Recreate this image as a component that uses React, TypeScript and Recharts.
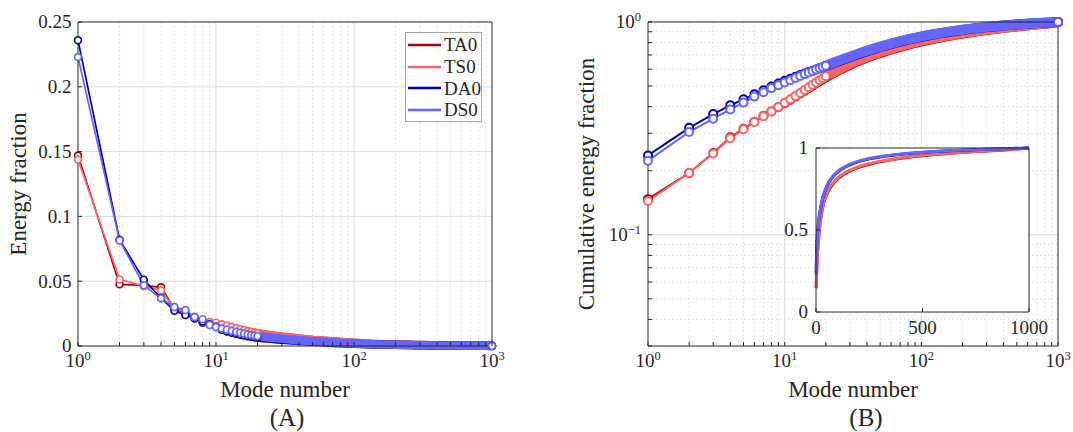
import React from "react";
import { LineChart, Line, XAxis, YAxis, CartesianGrid } from "recharts";

// Mode numbers sampled along each curve (log-spaced past mode 20)
const modes = [
  1, 2, 3, 4, 5, 6, 7, 8, 9, 10, 11, 12, 13, 14, 15, 16, 17, 18, 19, 20,
  22, 25, 28, 32, 36, 40, 45, 50, 56, 63, 71, 80, 90, 100, 112, 125, 140, 160, 180, 200,
  225, 250, 280, 320, 360, 400, 450, 500, 560, 630, 710, 800, 900, 1000,
];

// Energy fraction per mode
const ta0Energy = [
  0.147, 0.0476, 0.0468, 0.0453, 0.0285, 0.0255, 0.022, 0.018, 0.0178, 0.0175,
  0.0163, 0.0153, 0.0144, 0.0135, 0.0126, 0.0119, 0.0113, 0.0107, 0.0102, 0.0097,
  0.0089, 0.0081, 0.0074, 0.0067, 0.0061, 0.0056, 0.0051, 0.0046, 0.0042, 0.0038,
  0.0034, 0.003, 0.0027, 0.0024, 0.0021, 0.0018, 0.0016, 0.0013, 0.0012, 0.0011,
  0.001, 0.0009, 0.0008, 0.0007, 0.0006, 0.0005, 0.00045, 0.0004, 0.00035, 0.0003,
  0.00025, 0.0002, 0.00015, 0.0001,
];
const ts0Energy = [
  0.144, 0.0514, 0.0462, 0.043, 0.029, 0.0262, 0.0225, 0.019, 0.0185, 0.018,
  0.0168, 0.0158, 0.0148, 0.0139, 0.013, 0.0123, 0.0116, 0.011, 0.0105, 0.01,
  0.0092, 0.0083, 0.0076, 0.0069, 0.0063, 0.0058, 0.0052, 0.0047, 0.0043, 0.0039,
  0.0035, 0.0031, 0.0028, 0.0025, 0.0022, 0.0019, 0.0016, 0.0013, 0.0012, 0.0011,
  0.001, 0.0009, 0.0008, 0.0007, 0.0006, 0.0005, 0.00045, 0.0004, 0.00035, 0.0003,
  0.00025, 0.0002, 0.00015, 0.0001,
];
const da0Energy = [
  0.236, 0.082, 0.0512, 0.037, 0.0272, 0.0239, 0.0212, 0.019, 0.0168, 0.015,
  0.0125, 0.0112, 0.0102, 0.0094, 0.0087, 0.0081, 0.0076, 0.0072, 0.0068, 0.0065,
  0.006, 0.0055, 0.0051, 0.0047, 0.0043, 0.004, 0.0036, 0.0033, 0.003, 0.0027,
  0.0024, 0.0022, 0.002, 0.0018, 0.0016, 0.0014, 0.0012, 0.0011, 0.001, 0.0009,
  0.0008, 0.0007, 0.0006, 0.0005, 0.00045, 0.0004, 0.00035, 0.0003, 0.00025, 0.0002,
  0.00018, 0.00015, 0.0001, 0.00008,
];
const ds0Energy = [
  0.223, 0.0815, 0.0468, 0.0368, 0.03, 0.0277, 0.0224, 0.0207, 0.0163, 0.0147,
  0.0135, 0.0126, 0.0118, 0.011, 0.0103, 0.0096, 0.009, 0.0085, 0.0081, 0.0077,
  0.0071, 0.0064, 0.0059, 0.0054, 0.0049, 0.0045, 0.0041, 0.0037, 0.0034, 0.0031,
  0.0028, 0.0025, 0.0022, 0.002, 0.0018, 0.0016, 0.0014, 0.0012, 0.0011, 0.001,
  0.0009, 0.0008, 0.0007, 0.0006, 0.0005, 0.00045, 0.0004, 0.00035, 0.0003, 0.00025,
  0.0002, 0.00015, 0.0001, 0.00008,
];

// Cumulative energy fraction
const ta0Cumulative = [
  0.147, 0.195, 0.242, 0.287, 0.315, 0.34, 0.362, 0.38, 0.398, 0.415,
  0.431, 0.446, 0.461, 0.475, 0.489, 0.502, 0.515, 0.527, 0.539, 0.55,
  0.569, 0.594, 0.616, 0.642, 0.662, 0.68, 0.699, 0.716, 0.733, 0.75,
  0.766, 0.782, 0.797, 0.81, 0.823, 0.835, 0.847, 0.86, 0.872, 0.882,
  0.892, 0.901, 0.911, 0.921, 0.93, 0.938, 0.946, 0.953, 0.96, 0.968,
  0.975, 0.982, 0.99, 1.0,
];
const ts0Cumulative = [
  0.144, 0.195, 0.241, 0.284, 0.313, 0.339, 0.361, 0.38, 0.399, 0.417,
  0.433, 0.449, 0.464, 0.479, 0.493, 0.507, 0.52, 0.532, 0.544, 0.556,
  0.575, 0.6, 0.622, 0.648, 0.668, 0.686, 0.705, 0.722, 0.739, 0.756,
  0.772, 0.788, 0.802, 0.815, 0.828, 0.84, 0.852, 0.865, 0.876, 0.886,
  0.896, 0.905, 0.914, 0.924, 0.932, 0.94, 0.948, 0.955, 0.962, 0.969,
  0.976, 0.983, 0.991, 1.0,
];
const da0Cumulative = [
  0.236, 0.318, 0.369, 0.406, 0.433, 0.457, 0.478, 0.497, 0.514, 0.529,
  0.541, 0.553, 0.563, 0.573, 0.582, 0.59, 0.598, 0.606, 0.613, 0.621,
  0.635, 0.655, 0.673, 0.694, 0.713, 0.729, 0.747, 0.763, 0.779, 0.795,
  0.811, 0.826, 0.84, 0.852, 0.864, 0.875, 0.886, 0.898, 0.908, 0.917,
  0.926, 0.934, 0.941, 0.949, 0.956, 0.962, 0.968, 0.973, 0.978, 0.983,
  0.988, 0.992, 0.996, 1.0,
];
const ds0Cumulative = [
  0.223, 0.304, 0.351, 0.388, 0.418, 0.446, 0.468, 0.489, 0.505, 0.52,
  0.533, 0.546, 0.558, 0.569, 0.579, 0.589, 0.598, 0.607, 0.615, 0.623,
  0.638, 0.658, 0.676, 0.697, 0.716, 0.732, 0.75, 0.766, 0.782, 0.798,
  0.814, 0.829, 0.843, 0.855, 0.867, 0.878, 0.889, 0.901, 0.911, 0.919,
  0.928, 0.936, 0.943, 0.951, 0.958, 0.963, 0.969, 0.974, 0.979, 0.984,
  0.988, 0.992, 0.996, 1.0,
];

const series = [
  { key: "ta0", name: "TA0", color: "#a80000" },
  { key: "ts0", name: "TS0", color: "#ff6464" },
  { key: "da0", name: "DA0", color: "#0000a8" },
  { key: "ds0", name: "DS0", color: "#6464ff" },
];

// Ticks
const modeTicks = [
  1, 2, 3, 4, 5, 6, 7, 8, 9, 10, 20, 30, 40, 50, 60, 70, 80, 90,
  100, 200, 300, 400, 500, 600, 700, 800, 900, 1000,
];
const modeMajor = [10, 100];
const modeMinor = [2, 3, 4, 5, 6, 7, 8, 9, 20, 30, 40, 50, 60, 70, 80, 90, 200, 300, 400, 500, 600, 700, 800, 900];
const energyTicks = [0, 0.05, 0.1, 0.15, 0.2, 0.25];
const energyTickLabels = ["0", "0.05", "0.1", "0.15", "0.2", "0.25"];
const cumulativeTicks = [
  0.03, 0.04, 0.05, 0.06, 0.07, 0.08, 0.09, 0.1, 0.2, 0.3, 0.4, 0.5, 0.6, 0.7, 0.8, 0.9, 1,
];
const cumulativeMinor = [0.04, 0.05, 0.06, 0.07, 0.08, 0.09, 0.2, 0.3, 0.4, 0.5, 0.6, 0.7, 0.8, 0.9];
const insetModeTicks = [0, 500, 1000];
const insetModeLabels = ["0", "500", "1000"];
const insetFractionTicks = [0, 0.5, 1];
const insetFractionLabels = ["0", "0.5", "1"];

// markers past this mode sit so close together they read as one thick band
const DENSE_FROM = 20;

const INK = "#262626";
const SERIF = "'Liberation Serif', 'DejaVu Serif', serif";
const TICK = 4;

type Row = { mode: number; [k: string]: number };

const buildRows = (ta0: number[], ts0: number[], da0: number[], ds0: number[]): Row[] =>
  modes.map((mode, i) => ({ mode, ta0: ta0[i], ts0: ts0[i], da0: da0[i], ds0: ds0[i] }));

const energyRows = buildRows(ta0Energy, ts0Energy, da0Energy, ds0Energy);
const cumulativeRows = buildRows(ta0Cumulative, ts0Cumulative, da0Cumulative, ds0Cumulative);

function decade(v: number): number | null {
  const e = Math.log10(v);
  return Math.abs(e - Math.round(e)) < 1e-9 ? Math.round(e) : null;
}

function powerLabel(v: number) {
  const e = decade(v);
  if (e === null) return null;
  return (
    <>
      10
      <tspan dy={-7} fontSize={12.5}>
        {e < 0 ? `\u2212${-e}` : e}
      </tspan>
    </>
  );
}

const listLabel = (ticks: number[], labels: string[]) => (v: number) => {
  const i = ticks.indexOf(v);
  return i < 0 ? null : labels[i];
};

type Side = "bottom" | "top" | "left" | "right";

// inward tick mark, plus an optional label outside the box
function makeTick(side: Side, label?: (v: number) => React.ReactNode, gap = 7, drop = 21) {
  return (p: any) => {
    const { x, y, payload } = p;
    const dx = side === "left" ? TICK : side === "right" ? -TICK : 0;
    const dy = side === "bottom" ? -TICK : side === "top" ? TICK : 0;
    const text = label ? label(payload.value) : null;
    return (
      <g>
        <line x1={x} y1={y} x2={x + dx} y2={y + dy} stroke={INK} strokeWidth={1} />
        {text != null &&
          (side === "bottom" ? (
            <text x={x} y={y + drop} textAnchor="middle" fontSize={19} fontFamily={SERIF} fill={INK}>
              {text}
            </text>
          ) : (
            <text x={x - gap} y={y + 6.3} textAnchor="end" fontSize={19} fontFamily={SERIF} fill={INK}>
              {text}
            </text>
          ))}
      </g>
    );
  };
}

function seriesLines(rows: Row[], r: number, sw: number) {
  const head = rows.filter((d) => d.mode <= DENSE_FROM);
  const tail = rows.filter((d) => d.mode >= DENSE_FROM);
  return series.flatMap((s) => [
    <Line
      key={`${s.key}-head`}
      data={head}
      dataKey={s.key}
      name={s.name}
      stroke={s.color}
      strokeWidth={sw}
      dot={{ r, fill: "#fff", stroke: s.color, strokeWidth: sw }}
      activeDot={false}
      isAnimationActive={false}
    />,
    <Line
      key={`${s.key}-tail`}
      data={tail}
      dataKey={s.key}
      stroke={s.color}
      strokeWidth={2 * r + sw}
      strokeLinecap="round"
      strokeLinejoin="round"
      dot={(p: any) =>
        p.index === tail.length - 1 ? (
          <circle key={`end-${s.key}`} cx={p.cx} cy={p.cy} r={r} fill="#fff" stroke={s.color} strokeWidth={sw} />
        ) : (
          <g key={`n-${s.key}-${p.index}`} />
        )
      }
      activeDot={false}
      legendType="none"
      isAnimationActive={false}
    />,
  ]);
}

const axisLine = { stroke: INK, strokeWidth: 1 };
const axisCommon = { tickSize: 0, tickMargin: 0, tickLine: false, interval: 0 as const, axisLine };

function EnergyPanel() {
  return (
    <LineChart width={520} height={432} margin={{ top: 12, right: 20, bottom: 56, left: 8 }}>
      <CartesianGrid stroke="#d9d9d9" strokeDasharray="1.5 2.5" horizontal={false} verticalValues={modeMinor} />
      <CartesianGrid stroke="#dcdcdc" verticalValues={modeMajor} horizontalValues={[0.05, 0.1, 0.15, 0.2]} />
      <XAxis
        dataKey="mode"
        type="number"
        scale="log"
        domain={[1, 1000]}
        ticks={modeTicks}
        height={30}
        tick={makeTick("bottom", powerLabel)}
        {...axisCommon}
      />
      <XAxis
        xAxisId="top"
        orientation="top"
        dataKey="mode"
        type="number"
        scale="log"
        domain={[1, 1000]}
        ticks={modeTicks}
        height={10}
        tick={makeTick("top")}
        {...axisCommon}
      />
      <YAxis
        type="number"
        domain={[0, 0.25]}
        ticks={energyTicks}
        width={70}
        tick={makeTick("left", listLabel(energyTicks, energyTickLabels), 6.5)}
        {...axisCommon}
      />
      <YAxis
        yAxisId="right"
        orientation="right"
        type="number"
        domain={[0, 0.25]}
        ticks={energyTicks}
        width={8}
        tick={makeTick("right")}
        {...axisCommon}
      />
      {seriesLines(energyRows, 3.4, 1.7)}
    </LineChart>
  );
}

function CumulativePanel() {
  return (
    <LineChart width={533} height={432} margin={{ top: 12, right: 5, bottom: 56, left: 38 }}>
      <CartesianGrid
        stroke="#d9d9d9"
        strokeDasharray="1.5 2.5"
        verticalValues={modeMinor}
        horizontalValues={cumulativeMinor}
      />
      <CartesianGrid stroke="#dcdcdc" verticalValues={modeMajor} horizontalValues={[0.1]} />
      <XAxis
        dataKey="mode"
        type="number"
        scale="log"
        domain={[1, 1000]}
        ticks={modeTicks}
        height={30}
        tick={makeTick("bottom", powerLabel)}
        {...axisCommon}
      />
      <XAxis
        xAxisId="top"
        orientation="top"
        dataKey="mode"
        type="number"
        scale="log"
        domain={[1, 1000]}
        ticks={modeTicks}
        height={10}
        tick={makeTick("top")}
        {...axisCommon}
      />
      <YAxis
        type="number"
        scale="log"
        domain={[0.03, 1]}
        ticks={cumulativeTicks}
        width={70}
        tick={makeTick("left", powerLabel, 7)}
        {...axisCommon}
      />
      <YAxis
        yAxisId="right"
        orientation="right"
        type="number"
        scale="log"
        domain={[0.03, 1]}
        ticks={cumulativeTicks}
        width={10}
        tick={makeTick("right")}
        {...axisCommon}
      />
      {seriesLines(cumulativeRows, 4, 2)}
    </LineChart>
  );
}

// linear-axis view of the cumulative curves
function InsetPanel() {
  return (
    <LineChart width={275} height={220} margin={{ top: 8, right: 16, bottom: 28, left: 26 }}>
      <CartesianGrid fill="#ffffff" horizontal={false} vertical={false} />
      <XAxis
        dataKey="mode"
        type="number"
        domain={[0, 1000]}
        ticks={insetModeTicks}
        height={10}
        tick={makeTick("bottom", listLabel(insetModeTicks, insetModeLabels), 7, 22)}
        {...axisCommon}
      />
      <XAxis
        xAxisId="top"
        orientation="top"
        dataKey="mode"
        type="number"
        domain={[0, 1000]}
        ticks={insetModeTicks}
        height={10}
        tick={makeTick("top")}
        {...axisCommon}
      />
      <YAxis
        type="number"
        domain={[0, 1]}
        ticks={insetFractionTicks}
        width={10}
        tick={makeTick("left", listLabel(insetFractionTicks, insetFractionLabels), 8)}
        {...axisCommon}
      />
      <YAxis
        yAxisId="right"
        orientation="right"
        type="number"
        domain={[0, 1]}
        ticks={insetFractionTicks}
        width={10}
        tick={makeTick("right")}
        {...axisCommon}
      />
      {series.map((s) => (
        <Line
          key={s.key}
          data={cumulativeRows}
          dataKey={s.key}
          stroke={s.color}
          strokeWidth={3}
          dot={false}
          activeDot={false}
          isAnimationActive={false}
        />
      ))}
    </LineChart>
  );
}

function SeriesLegend() {
  return (
    <div
      style={{
        position: "absolute",
        left: 405,
        top: 32,
        width: 75,
        height: 87,
        border: "1px solid #a3a3a3",
        background: "#fff",
        paddingTop: 1,
        boxSizing: "content-box",
      }}
    >
      {series.map((s) => (
        <div key={s.key} style={{ height: 21.7, display: "flex", alignItems: "center" }}>
          <svg width={38} height={6} style={{ display: "block" }}>
            <line x1={2} x2={35} y1={3} y2={3} stroke={s.color} strokeWidth={2.6} />
          </svg>
          <span style={{ fontFamily: SERIF, fontSize: 19, color: INK, lineHeight: "21px" }}>{s.name}</span>
        </div>
      ))}
    </div>
  );
}

const textStyle = { fontFamily: SERIF, fill: INK };

export default function App() {
  return (
    <div style={{ position: "absolute", left: 0, top: 0, width: 1073, height: 432, background: "#fff" }}>
      <div style={{ position: "absolute", left: 0, top: 0 }}>
        <EnergyPanel />
      </div>
      <div style={{ position: "absolute", left: 540, top: 0 }}>
        <CumulativePanel />
      </div>
      <div style={{ position: "absolute", left: 780, top: 130 }}>
        <InsetPanel />
      </div>
      <SeriesLegend />
      <svg width={1073} height={432} style={{ position: "absolute", left: 0, top: 0, pointerEvents: "none" }}>
        <text x={26} y={184} transform="rotate(-90 26 184)" textAnchor="middle" fontSize={23} {...textStyle}>
          Energy fraction
        </text>
        <text x={285} y={396.5} textAnchor="middle" fontSize={23} {...textStyle}>
          Mode number
        </text>
        <text x={287} y={426} textAnchor="middle" fontSize={25} {...textStyle}>
          (A)
        </text>
        <text x={594} y={184} transform="rotate(-90 594 184)" textAnchor="middle" fontSize={23} {...textStyle}>
          Cumulative energy fraction
        </text>
        <text x={853} y={396.5} textAnchor="middle" fontSize={23} {...textStyle}>
          Mode number
        </text>
        <text x={866} y={426} textAnchor="middle" fontSize={25} {...textStyle}>
          (B)
        </text>
      </svg>
    </div>
  );
}
